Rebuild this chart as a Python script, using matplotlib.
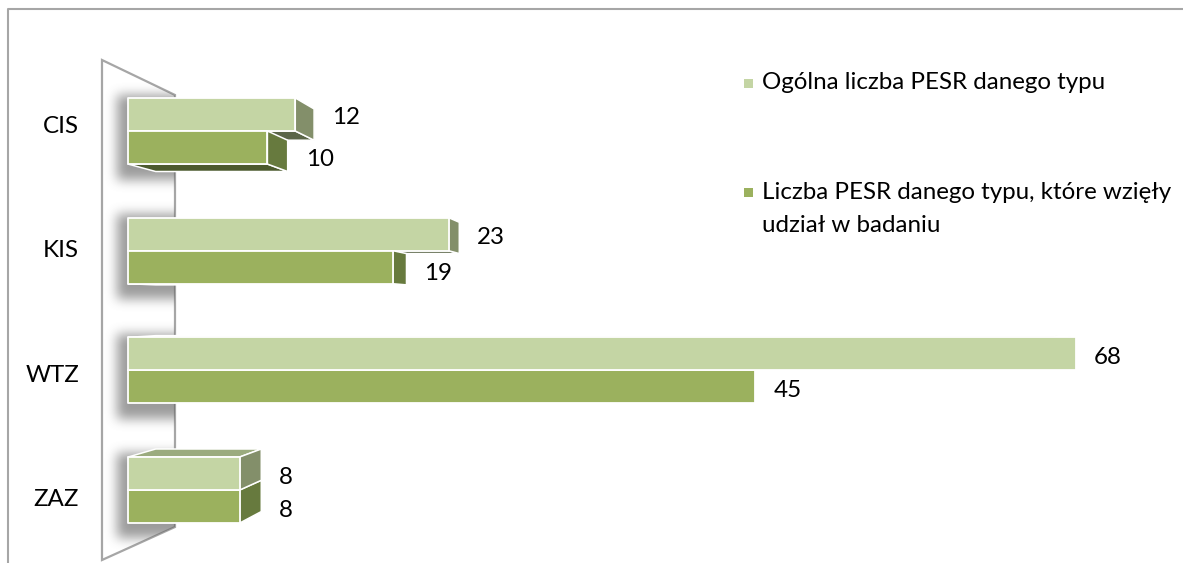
import numpy as np
import matplotlib
matplotlib.use('Agg')
import matplotlib.pyplot as plt
from matplotlib.patches import Polygon, Rectangle
from matplotlib.lines import Line2D

# ---------------- data ----------------
categories = ['CIS', 'KIS', 'WTZ', 'ZAZ']
total_pesr = [12, 23, 68, 8]
surveyed_pesr = [10, 19, 45, 8]
series_names = ['Ogólna liczba PESR danego typu',
                'Liczba PESR danego typu, które wzięły\nudział w badaniu']

# ---------------- style ----------------
FONT = ['Lato', 'DejaVu Sans']
FS = 17.4
plt.rcParams['font.family'] = FONT

# face colours: front, side, top, bottom
light_cols = dict(front='#C4D5A4', side='#838F6A', top='#9BAB7E', bottom='#5B6648')
dark_cols = dict(front='#9BB15E', side='#677A3E', top='#7E9150', bottom='#4C5A2E')

W, H = 1183, 563
fig = plt.figure(figsize=(W / 100, H / 100), dpi=100)
ax = fig.add_axes([0, 0, 1, 1])

PX_PER_UNIT = 13.94     # pixels per value unit
X0 = 128                # pixel position of value 0
Y0 = 131                # pixel position of first category centre
PX_PER_CAT = 119.7      # pixel distance between categories
xl = (-X0 / PX_PER_UNIT, (W - X0) / PX_PER_UNIT)
yl = ((H - Y0) / PX_PER_CAT, -Y0 / PX_PER_CAT)
ax.axis('off')

BAR_H = 0.276
VP = np.array([(650 - X0) / PX_PER_UNIT, (305 - Y0) / PX_PER_CAT])  # vanishing point
F = 0.053


def P(x, y):
    return (x / W, 1 - y / H)


def back(pt):
    pt = np.asarray(pt, float)
    return pt + F * (VP - pt)


# outer frame
ax.add_line(Line2D([P(8, H)[0], P(8, 9)[0], P(W, 9)[0]],
                   [P(8, H + 5)[1], P(8, 9)[1], P(W, 9)[1]],
                   transform=ax.transAxes, color='#A6A6A6', lw=1.5, zorder=1))

# wall
wall_px = [(102, 60), (175, 95), (175, 527), (102, 560)]
wall = Polygon([P(*p) for p in wall_px], closed=True, transform=ax.transAxes,
               facecolor='white', edgecolor='#A6A6A6', lw=1.6, zorder=2)
ax.add_patch(wall)

# shadow of bars on the wall
xs = np.linspace(xl[0], xl[1], W)
ys = np.linspace(yl[1], yl[0], H)
mask = np.zeros((H, W))
for i in range(len(categories)):
    cols = (xs > -0.85) & (xs < 12)
    rows = (ys > i - BAR_H - 0.03) & (ys < i + BAR_H + 0.13)
    mask[np.ix_(rows, cols)] = 1.0


def box_blur(a, r):
    k = 2 * r + 1
    for axis in (0, 1):
        pw = [(0, 0), (0, 0)]
        pw[axis] = (r, r)
        p = np.pad(a, pw, mode='edge')
        c = np.cumsum(p, axis=axis)
        c = np.concatenate([np.zeros_like(np.take(c, [0], axis=axis)), c], axis=axis)
        n = a.shape[axis]
        a = (np.take(c, range(k, k + n), axis=axis) - np.take(c, range(0, n), axis=axis)) / k
    return a


for _ in range(3):
    mask = box_blur(mask, 5)
rgba = np.zeros((H, W, 4))
rgba[..., :3] = 0.4
rgba[..., 3] = mask * 0.65
im = ax.imshow(rgba, extent=(xl[0], xl[1], yl[0], yl[1]), origin='upper',
               aspect='auto', zorder=3, interpolation='bilinear')
im.set_clip_path(wall)

ax.set_xlim(*xl)
ax.set_ylim(*yl)


def draw_bar(x1, y0, y1, colset, z):
    fl = np.array([[0, y0], [x1, y0], [x1, y1], [0, y1]], float)
    bk = np.array([back(p) for p in fl])
    faces = []
    if VP[1] < y0:
        faces.append(([fl[0], fl[1], bk[1], bk[0]], colset['top']))
    if VP[1] > y1:
        faces.append(([fl[3], fl[2], bk[2], bk[3]], colset['bottom']))
    if VP[0] > x1:
        faces.append(([fl[1], fl[2], bk[2], bk[1]], colset['side']))
    for poly, c in faces:
        ax.add_patch(Polygon(poly, closed=True, facecolor=c, edgecolor='white',
                             lw=1.1, joinstyle='round', zorder=z))
    ax.add_patch(Polygon(fl, closed=True, facecolor=colset['front'],
                         edgecolor='white', lw=1.3, joinstyle='round', zorder=z + 0.5))
    return max(x1, bk[1][0]), bk


label_gap = 18 / PX_PER_UNIT
for i, cat in enumerate(categories):
    bars = [(total_pesr[i], i - BAR_H, i, light_cols),
            (surveyed_pesr[i], i, i + BAR_H, dark_cols)]
    order = sorted(range(2), key=lambda k: -abs((bars[k][1] + bars[k][2]) / 2 - VP[1]))
    for rank, k in enumerate(order):
        v, y0, y1, cs = bars[k]
        xr, bk = draw_bar(v, y0, y1, cs, 5 + rank)
        ly = (y0 + y1) / 2 + 3.5 / PX_PER_CAT
        if k == 1 and VP[1] > y1:
            ly = (bk[1][1] + bk[2][1]) / 2 + 4 / PX_PER_CAT
        ax.text(xr + label_gap, ly, str(v),
                ha='left', va='center', fontsize=FS, color='black', zorder=10)
    # category label
    ax.text(-49 / PX_PER_UNIT, i + 0.04 * (i - 1), cat, ha='right', va='center',
            fontsize=FS, color='black', zorder=10)

# legend
leg_y = [83, 192]
for name, cs, ly in zip(series_names, [light_cols, dark_cols], leg_y):
    ax.add_patch(Rectangle(P(744, ly + 4.5), 9 / W, 9 / H, transform=ax.transAxes,
                           facecolor=cs['front'], edgecolor='none', zorder=10))
    for j, line in enumerate(name.split('\n')):
        ax.text(*P(762, ly + j * 33), line, transform=ax.transAxes, ha='left',
                va='center', fontsize=FS, color='black', zorder=10)

fig.savefig('out.png', dpi=100)
